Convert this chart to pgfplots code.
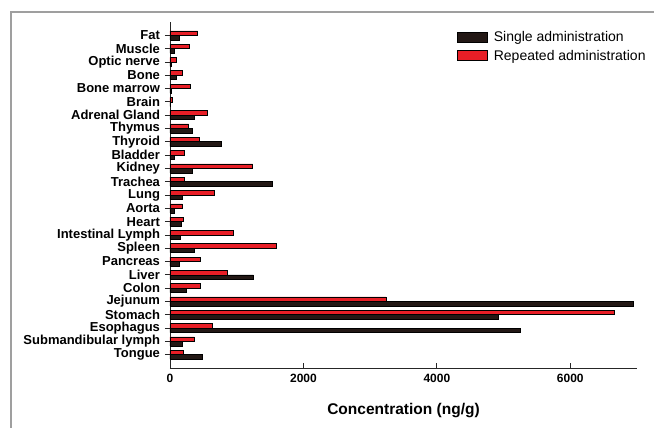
\documentclass[border=0pt]{standalone}
\usepackage{pgfplots}
\pgfplotsset{compat=1.18}
\usepackage{fontspec}
\setmainfont{Liberation Sans}
\definecolor{barred}{RGB}{232,30,38}
\definecolor{barblack}{RGB}{35,24,21}
\begin{document}
\begin{tikzpicture}[x=1pt,y=1pt]
\path[use as bounding box] (0,0) rectangle (654,-428);
\draw[gray!75, line width=1.3pt] (11,-428) -- (11,-12) -- (654,-12);
\begin{axis}[
  at={(170pt,-368pt)}, anchor=south west,
  width=467pt, height=346pt, scale only axis,
  xmin=0, xmax=7000, ymin=-1, ymax=25,
  xbar, bar width=4.5pt,
  axis x line*=bottom, axis y line*=left,
  axis line style={line width=0.8pt, black!85},
  xtick={0,2000,4000,6000},
  xtick align=inside, ytick align=outside,
  major tick length=5pt,
  tick style={line width=0.8pt, black!85},
  /pgf/number format/assume math mode=true,
  /pgf/number format/1000 sep={},
  xticklabel style={font=\bfseries\fontsize{12}{14}\selectfont, yshift=-3pt},
  ytick={0,...,24},
  yticklabels={Tongue,Submandibular lymph,Esophagus,Stomach,Jejunum,Colon,Liver,Pancreas,Spleen,Intestinal Lymph,Heart,Aorta,Lung,Trachea,Kidney,Bladder,Thyroid,Thymus,Adrenal Gland,Brain,Bone marrow,Bone,Optic nerve,Muscle,Fat},
  yticklabel style={font=\bfseries\fontsize{13}{14}\selectfont, xshift=-1.5pt},
  xlabel={Concentration (ng/g)},
  xlabel style={font=\bfseries\fontsize{15.5}{17}\selectfont, at={(axis description cs:0.5,-0.124)}, anchor=center},
  legend style={at={(rel axis cs:0.608,0.985)}, anchor=north west, draw=none, fill=none,
    font=\fontsize{14}{16}\selectfont, row sep=3pt, cells={anchor=west}},
  legend image code/.code={\draw[#1, draw=black, line width=0.8pt] (0pt,-5pt) rectangle (30pt,5pt); \path (34pt,0pt);},
]
\addplot[fill=barblack, draw=black, line width=0.6pt, bar shift=-2.25pt] coordinates {
(490,0) (185,1) (5245,2) (4925,3) (6945,4) (250,5) (1250,6) (140,7) (360,8) (160,9)
(165,10) (65,11) (190,12) (1535,13) (340,14) (60,15) (765,16) (340,17) (365,18) (5,19)
(15,20) (100,21) (15,22) (60,23) (135,24)};
\addlegendentry{Single administration}
\addplot[fill=barred, draw=black, line width=0.6pt, bar shift=2.25pt] coordinates {
(200,0) (365,1) (640,2) (6655,3) (3235,4) (460,5) (865,6) (450,7) (1600,8) (945,9)
(200,10) (185,11) (665,12) (220,13) (1240,14) (220,15) (440,16) (280,17) (565,18) (40,19)
(300,20) (185,21) (100,22) (290,23) (415,24)};
\addlegendentry{Repeated administration}
\end{axis}
\end{tikzpicture}
\end{document}
